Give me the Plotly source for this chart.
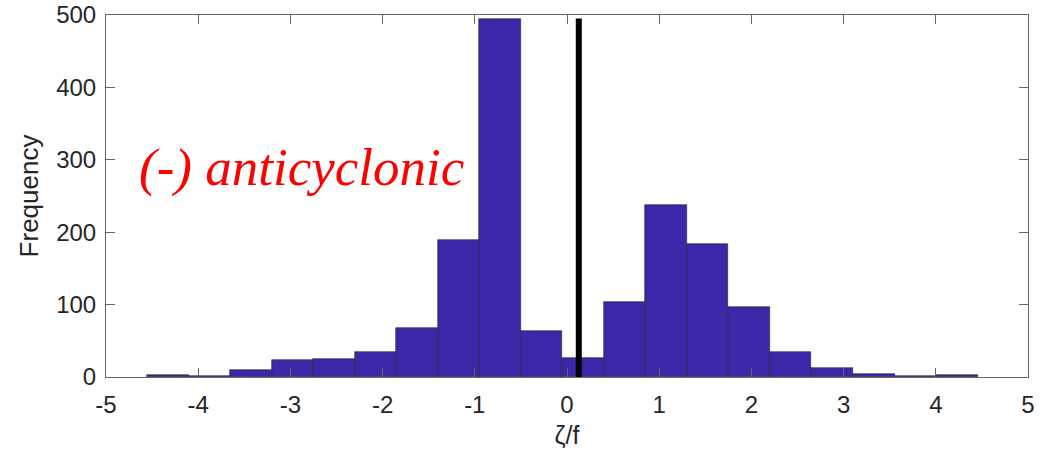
import plotly.graph_objects as go

bin_start = -4.555
bin_width = 0.4504
counts = [3, 1, 9, 23, 25, 34, 67, 189, 495, 64, 26, 103, 237, 184, 97, 34, 12, 4, 1, 3]
centers = [bin_start + bin_width * (i + 0.5) for i in range(len(counts))]
line_x = 0.128
line_top = 495
x_ticks = [-5, -4, -3, -2, -1, 0, 1, 2, 3, 4, 5]
y_ticks = [0, 100, 200, 300, 400, 500]

fig = go.Figure()
fig.add_trace(go.Bar(
    x=centers, y=counts, width=bin_width,
    marker=dict(color="#3E26A8", line=dict(color="#262626", width=0.6)),
    showlegend=False, hoverinfo="x+y"))
fig.add_trace(go.Scatter(
    x=[line_x, line_x], y=[0, line_top], mode="lines",
    line=dict(color="black", width=6), showlegend=False))

fig.add_annotation(x=-4.66, y=290, xref="x", yref="y", text="<i>(-) anticyclonic</i>",
                   showarrow=False, xanchor="left", yanchor="middle",
                   font=dict(family="Liberation Serif", size=53, color="#FF0000"))

axis_common = dict(showgrid=False, zeroline=False, showline=True, linecolor="#666666",
                   linewidth=1, mirror="allticks", ticks="inside", ticklen=9,
                   tickcolor="#666666", tickwidth=1, automargin=False,
                   ticklabeloverflow="allow",
                   tickfont=dict(family="Liberation Sans", size=24, color="#262626"))

fig.update_xaxes(range=[-5, 5], tickvals=x_ticks, ticktext=[str(v) for v in x_ticks],
                 ticklabelstandoff=6,
                 title=dict(text="ζ/f", font=dict(family="Liberation Sans", size=25, color="#262626"), standoff=9),
                 **axis_common)
fig.update_yaxes(range=[0, 500], tickvals=y_ticks, ticktext=[str(v) for v in y_ticks],
                 ticklabelstandoff=4,
                 title=dict(text="Frequency", font=dict(family="Liberation Sans", size=26, color="#262626"), standoff=10),
                 **axis_common)

fig.update_layout(width=1043, height=451, margin=dict(l=106, r=15, t=15, b=74),
                  plot_bgcolor="white", paper_bgcolor="white", bargap=0)
fig.write_html("out.html", config={"displayModeBar": False},
               post_script="document.body.style.margin='0';document.body.style.overflow='hidden';")
